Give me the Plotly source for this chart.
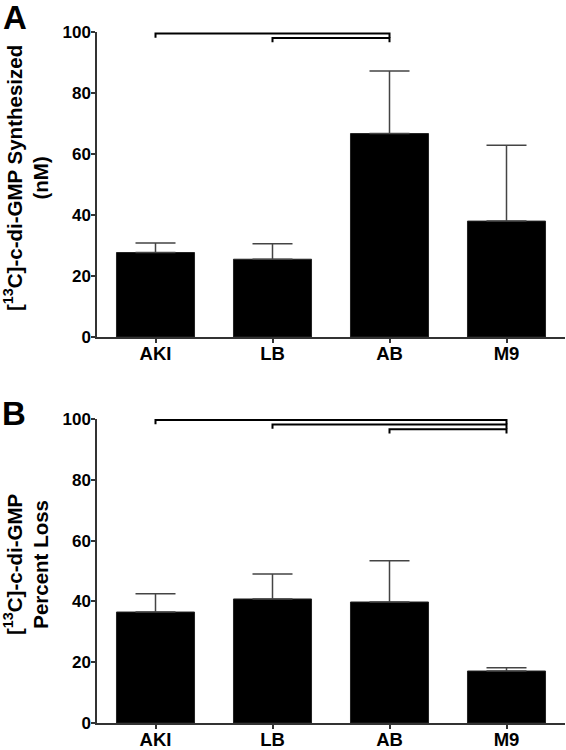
import plotly.graph_objects as go

# ---- data ----
categories = ["AKI", "LB", "AB", "M9"]
synth_mean = [27.7, 25.5, 66.7, 38.0]
synth_sem = [3.1, 5.1, 20.5, 24.9]
loss_mean = [36.5, 40.8, 39.8, 17.1]
loss_sem = [6.0, 8.2, 13.6, 1.1]
y_tick_vals = [0, 20, 40, 60, 80, 100]

# significance brackets: (from, to, height)
brackets_A = [("AKI", "AB", 99.5), ("LB", "AB", 98.0)]
brackets_B = [("AKI", "M9", 99.7), ("LB", "M9", 98.2), ("AB", "M9", 96.6)]
bracket_drop = 1.4

title_A = "[<sup>13</sup>C]-c-di-GMP Synthesized<br>(nM)"
title_B = "[<sup>13</sup>C]-c-di-GMP<br>Percent Loss"

FONT = "Liberation Sans, Arial, sans-serif"
AX = "#333333"

W, H = 566, 750
ML, MR, MT, MB = 97, 1, 32, 27
PW = W - ML - MR
PH = H - MT - MB


def py(pix):
    return (H - MB - pix) / PH


def px(pix):
    return (pix - ML) / PW


fig = go.Figure()

for mean, sem, xa, ya in [(synth_mean, synth_sem, "x", "y"), (loss_mean, loss_sem, "x2", "y2")]:
    fig.add_trace(go.Bar(
        x=categories, y=mean, xaxis=xa, yaxis=ya,
        marker=dict(color="black", line=dict(color="#222222", width=1)),
        error_y=dict(type="data", symmetric=False, array=sem, arrayminus=[0] * len(sem),
                     color="#444444", thickness=1.5, width=20),
        showlegend=False, hoverinfo="skip",
    ))

for brs, xa, ya in [(brackets_A, "x", "y"), (brackets_B, "x2", "y2")]:
    for a, b, h in brs:
        fig.add_trace(go.Scatter(
            x=[a, a, b, b], y=[h - bracket_drop, h, h, h - bracket_drop],
            xaxis=xa, yaxis=ya, mode="lines",
            line=dict(color="black", width=2), cliponaxis=False,
            showlegend=False, hoverinfo="skip",
        ))

xcommon = dict(
    range=[-0.5, 3.5], showline=True, linecolor=AX, linewidth=1.5,
    ticks="outside", ticklen=4, tickwidth=1.5, tickcolor=AX,
    showgrid=False, zeroline=False, automargin=False, ticklabelstandoff=-5,
    tickfont=dict(family=FONT, size=18.5, color="black", weight="bold"),
    categoryorder="array", categoryarray=categories,
)
ycommon = dict(
    range=[0, 100], tickvals=y_tick_vals, showline=True, linecolor=AX, linewidth=1.5,
    ticks="outside", ticklen=4, tickwidth=1.5, tickcolor=AX,
    showgrid=False, zeroline=False, automargin=False, ticklabelstandoff=-3,
    tickfont=dict(family=FONT, size=17, color="black", weight="bold"),
)

domA = [py(337), 1.0]
domB = [0.0, py(419)]

fig.update_layout(
    width=W, height=H,
    margin=dict(l=ML, r=MR, t=MT, b=MB),
    paper_bgcolor="white", plot_bgcolor="white",
    bargap=0.333,
    xaxis=dict(domain=[0, 1], anchor="y", **xcommon),
    yaxis=dict(domain=domA, anchor="x", **ycommon),
    xaxis2=dict(domain=[0, 1], anchor="y2", **xcommon),
    yaxis2=dict(domain=domB, anchor="x2", **ycommon),
    annotations=[
        dict(text=title_A, xref="paper", yref="paper", x=px(26), y=py(178),
             textangle=-90, showarrow=False, xanchor="center", yanchor="middle",
             font=dict(family=FONT, size=20.5, color="black", weight="bold")),
        dict(text=title_B, xref="paper", yref="paper", x=px(26), y=py(565),
             textangle=-90, showarrow=False, xanchor="center", yanchor="middle",
             font=dict(family=FONT, size=20.5, color="black", weight="bold")),
        dict(text="A", xref="paper", yref="paper", x=px(1), y=py(-3),
             showarrow=False, xanchor="left", yanchor="top",
             font=dict(family=FONT, size=33, color="black", weight="bold")),
        dict(text="B", xref="paper", yref="paper", x=px(0), y=py(393),
             showarrow=False, xanchor="left", yanchor="top",
             font=dict(family=FONT, size=33, color="black", weight="bold")),
    ],
)

fig.write_html(
    "out.html",
    config={"displayModeBar": False},
    post_script="document.body.style.margin='0';document.body.style.overflow='hidden';",
)
